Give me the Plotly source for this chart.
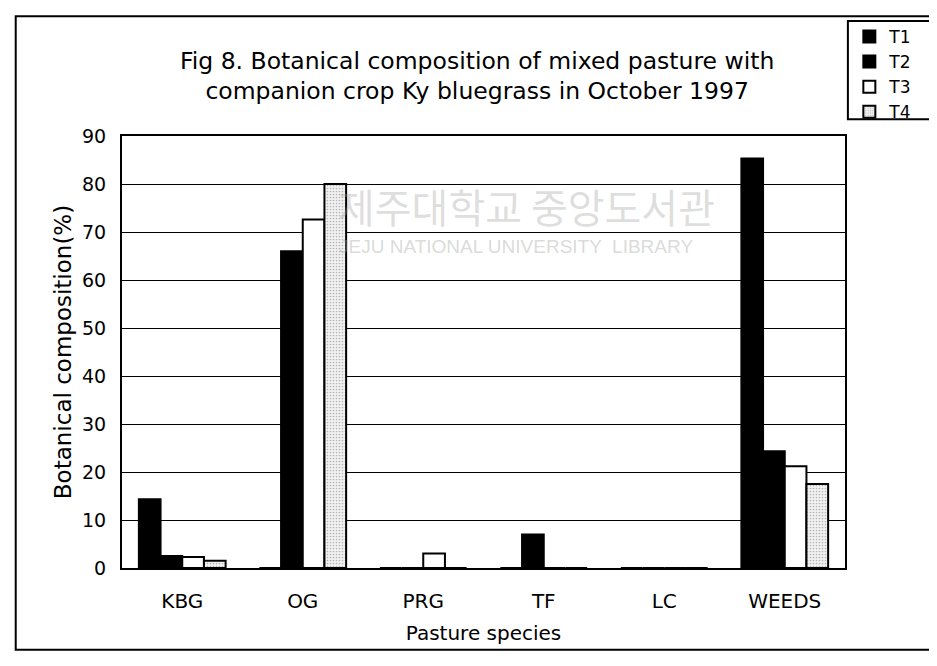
import plotly.graph_objects as go

species = ["KBG", "OG", "PRG", "TF", "LC", "WEEDS"]
t1 = [14.3, 0, 0, 0, 0, 85.3]
t2 = [2.5, 66.0, 0, 7.0, 0, 24.3]
t3 = [2.3, 72.6, 3.0, 0, 0, 21.2]
t4 = [1.5, 80.0, 0, 0, 0, 17.5]

fig = go.Figure()
styles = [
    ("T1", t1, dict(color="black")),
    ("T2", t2, dict(color="black")),
    ("T3", t3, dict(color="white")),
    ("T4", t4, dict(color="#e6e6e6", pattern=dict(shape=".", fgcolor="#777777",
                                                   bgcolor="#f2f2f2", size=3, solidity=0.25))),
]
for name, vals, mk in styles:
    fig.add_trace(go.Bar(
        x=species, y=vals, name=name,
        marker=dict(line=dict(color="black", width=2), **mk),
    ))

fnt = "DejaVu Sans, Liberation Sans, sans-serif"
# page body has an 8px margin, so the figure is a little smaller than the window
fig.update_layout(
    width=929, height=658,
    margin=dict(l=114, r=92, t=127, b=98),
    paper_bgcolor="white", plot_bgcolor="white",
    barmode="group", bargap=0.28, bargroupgap=0,
    font=dict(family=fnt, size=18, color="black"),
    showlegend=True,
    legend=dict(x=1.006, y=1.268, xanchor="left", yanchor="top",
                borderwidth=0, bgcolor="rgba(0,0,0,0)",
                font=dict(size=17), itemwidth=30, tracegroupgap=0,
                traceorder="normal"),
    title=dict(text="Fig 8. Botanical composition of mixed pasture with<br>companion crop Ky bluegrass in October 1997",
               x=0.505, xanchor="center", y=0.908, yanchor="top",
               font=dict(size=23.5)),
)
fig.update_xaxes(showline=True, linecolor="black", linewidth=2, mirror=True,
                 ticks="", tickfont=dict(size=20), ticklabelstandoff=14,
                 title=dict(text="Pasture species", font=dict(size=20), standoff=14))
fig.update_yaxes(range=[0, 90], dtick=10, showgrid=True, gridcolor="black", gridwidth=1,
                 showline=True, linecolor="black", linewidth=2, mirror=True,
                 ticks="", tickfont=dict(size=19), zeroline=False, ticklabelstandoff=10,
                 title=dict(text="Botanical composition(%)", font=dict(size=23), standoff=4))

# watermark of the scanned source
fig.add_annotation(text="제주대학교 중앙도서관", xref="paper", yref="paper",
                   x=0.56, y=0.91, showarrow=False,
                   font=dict(family="Noto Sans CJK KR", size=40, color="rgba(160,160,160,0.35)"))
fig.add_annotation(text="JEJU NATIONAL UNIVERSITY  LIBRARY", xref="paper", yref="paper",
                   x=0.545, y=0.772, showarrow=False,
                   font=dict(family="Liberation Sans", size=19, color="rgba(160,160,160,0.4)"))

# outer frame and legend box
fig.add_shape(type="rect", xref="paper", yref="paper", x0=-0.147, x1=1.2, y0=-0.189, y1=1.277,
              line=dict(color="black", width=2))
fig.add_shape(type="rect", xref="paper", yref="paper", x0=1.004, x1=1.14, y0=1.039, y1=1.266,
              line=dict(color="black", width=2), fillcolor="white", layer="below")

fig.write_html("out.html")
